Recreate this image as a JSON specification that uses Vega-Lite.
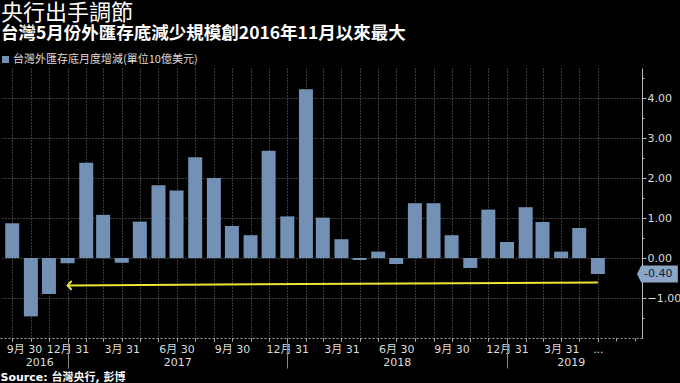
{
  "$schema": "https://vega.github.io/schema/vega-lite/v6.json",
  "width": 642,
  "height": 270,
  "autosize": {"type": "none"},
  "padding": {"left": 0, "top": 68, "right": 38, "bottom": 45},
  "background": "#000000",
  "title": {
    "text": "央行出手調節",
    "subtitle": "台灣5月份外匯存底減少規模創2016年11月以來最大",
    "anchor": "start",
    "frame": "group",
    "font": "Noto Sans CJK TC",
    "fontSize": 22,
    "fontWeight": "normal",
    "color": "#ffffff",
    "subtitleFont": "Noto Sans CJK TC",
    "subtitleFontSize": 17.5,
    "subtitleFontWeight": "bold",
    "subtitleColor": "#ffffff",
    "subtitlePadding": 0,
    "lineHeight": 20,
    "subtitleLineHeight": 19,
    "offset": 11,
    "dx": 1
  },
  "datasets": {
    "bars": [
      {"date": "2016-09-30", "value": 0.87, "series": "台灣外匯存底月度增減(單位10億美元)"},
      {"date": "2016-10-31", "value": -1.46, "series": "台灣外匯存底月度增減(單位10億美元)"},
      {"date": "2016-11-30", "value": -0.90, "series": "台灣外匯存底月度增減(單位10億美元)"},
      {"date": "2016-12-31", "value": -0.13, "series": "台灣外匯存底月度增減(單位10億美元)"},
      {"date": "2017-01-31", "value": 2.38, "series": "台灣外匯存底月度增減(單位10億美元)"},
      {"date": "2017-02-28", "value": 1.08, "series": "台灣外匯存底月度增減(單位10億美元)"},
      {"date": "2017-03-31", "value": -0.12, "series": "台灣外匯存底月度增減(單位10億美元)"},
      {"date": "2017-04-30", "value": 0.91, "series": "台灣外匯存底月度增減(單位10億美元)"},
      {"date": "2017-05-31", "value": 1.82, "series": "台灣外匯存底月度增減(單位10億美元)"},
      {"date": "2017-06-30", "value": 1.69, "series": "台灣外匯存底月度增減(單位10億美元)"},
      {"date": "2017-07-31", "value": 2.52, "series": "台灣外匯存底月度增減(單位10億美元)"},
      {"date": "2017-08-31", "value": 2.00, "series": "台灣外匯存底月度增減(單位10億美元)"},
      {"date": "2017-09-30", "value": 0.80, "series": "台灣外匯存底月度增減(單位10億美元)"},
      {"date": "2017-10-31", "value": 0.57, "series": "台灣外匯存底月度增減(單位10億美元)"},
      {"date": "2017-11-30", "value": 2.68, "series": "台灣外匯存底月度增減(單位10億美元)"},
      {"date": "2017-12-31", "value": 1.04, "series": "台灣外匯存底月度增減(單位10億美元)"},
      {"date": "2018-01-31", "value": 4.22, "series": "台灣外匯存底月度增減(單位10億美元)"},
      {"date": "2018-02-28", "value": 1.01, "series": "台灣外匯存底月度增減(單位10億美元)"},
      {"date": "2018-03-31", "value": 0.47, "series": "台灣外匯存底月度增減(單位10億美元)"},
      {"date": "2018-04-30", "value": -0.05, "series": "台灣外匯存底月度增減(單位10億美元)"},
      {"date": "2018-05-31", "value": 0.16, "series": "台灣外匯存底月度增減(單位10億美元)"},
      {"date": "2018-06-30", "value": -0.15, "series": "台灣外匯存底月度增減(單位10億美元)"},
      {"date": "2018-07-31", "value": 1.37, "series": "台灣外匯存底月度增減(單位10億美元)"},
      {"date": "2018-08-31", "value": 1.37, "series": "台灣外匯存底月度增減(單位10億美元)"},
      {"date": "2018-09-30", "value": 0.57, "series": "台灣外匯存底月度增減(單位10億美元)"},
      {"date": "2018-10-31", "value": -0.25, "series": "台灣外匯存底月度增減(單位10億美元)"},
      {"date": "2018-11-30", "value": 1.21, "series": "台灣外匯存底月度增減(單位10億美元)"},
      {"date": "2018-12-31", "value": 0.40, "series": "台灣外匯存底月度增減(單位10億美元)"},
      {"date": "2019-01-31", "value": 1.27, "series": "台灣外匯存底月度增減(單位10億美元)"},
      {"date": "2019-02-28", "value": 0.90, "series": "台灣外匯存底月度增減(單位10億美元)"},
      {"date": "2019-03-31", "value": 0.16, "series": "台灣外匯存底月度增減(單位10億美元)"},
      {"date": "2019-04-30", "value": 0.75, "series": "台灣外匯存底月度增減(單位10億美元)"},
      {"date": "2019-05-31", "value": -0.40, "series": "台灣外匯存底月度增減(單位10億美元)"}
    ],
    "arrow": [
      {"date": "2019-05-31", "value": -0.61, "date2": "2016-12-31", "value2": -0.685}
    ],
    "callout": [
      {"date": "2019-08-04", "value": -0.40, "label": "-0.40"}
    ]
  },
  "layer": [
    {
      "data": {"name": "bars"},
      "mark": {"type": "bar", "width": 14},
      "encoding": {
        "x": {
          "field": "date", "type": "temporal",
          "scale": {"type": "utc", "nice": false, "domain": [{"year": 2016, "month": 9, "date": 18, "utc": true}, {"year": 2019, "month": 8, "date": 4, "utc": true}]},
          "axis": {
            "orient": "bottom",
            "title": null,
            "values": [
              {"year": 2016, "month": 9, "date": 30, "utc": true},
              {"year": 2016, "month": 10, "date": 31, "utc": true},
              {"year": 2016, "month": 11, "date": 30, "utc": true},
              {"year": 2016, "month": 12, "date": 31, "utc": true},
              {"year": 2017, "month": 1, "date": 31, "utc": true},
              {"year": 2017, "month": 2, "date": 28, "utc": true},
              {"year": 2017, "month": 3, "date": 31, "utc": true},
              {"year": 2017, "month": 4, "date": 30, "utc": true},
              {"year": 2017, "month": 5, "date": 31, "utc": true},
              {"year": 2017, "month": 6, "date": 30, "utc": true},
              {"year": 2017, "month": 7, "date": 31, "utc": true},
              {"year": 2017, "month": 8, "date": 31, "utc": true},
              {"year": 2017, "month": 9, "date": 30, "utc": true},
              {"year": 2017, "month": 10, "date": 31, "utc": true},
              {"year": 2017, "month": 11, "date": 30, "utc": true},
              {"year": 2017, "month": 12, "date": 31, "utc": true},
              {"year": 2018, "month": 1, "date": 31, "utc": true},
              {"year": 2018, "month": 2, "date": 28, "utc": true},
              {"year": 2018, "month": 3, "date": 31, "utc": true},
              {"year": 2018, "month": 4, "date": 30, "utc": true},
              {"year": 2018, "month": 5, "date": 31, "utc": true},
              {"year": 2018, "month": 6, "date": 30, "utc": true},
              {"year": 2018, "month": 7, "date": 31, "utc": true},
              {"year": 2018, "month": 8, "date": 31, "utc": true},
              {"year": 2018, "month": 9, "date": 30, "utc": true},
              {"year": 2018, "month": 10, "date": 31, "utc": true},
              {"year": 2018, "month": 11, "date": 30, "utc": true},
              {"year": 2018, "month": 12, "date": 31, "utc": true},
              {"year": 2019, "month": 1, "date": 31, "utc": true},
              {"year": 2019, "month": 2, "date": 28, "utc": true},
              {"year": 2019, "month": 3, "date": 31, "utc": true},
              {"year": 2019, "month": 4, "date": 30, "utc": true},
              {"year": 2019, "month": 5, "date": 31, "utc": true},
              {"year": 2019, "month": 6, "date": 30, "utc": true},
              {"year": 2019, "month": 7, "date": 31, "utc": true}
            ],
            "labelExpr": "datum.value < utc(2016, 9, 1) ? '' : ((utcyear(datum.value) == 2019 && utcmonth(datum.value) >= 4) ? (utcmonth(datum.value) == 4 ? '...' : '') : (utcmonth(datum.value) % 3 == 2 ? (utcmonth(datum.value) + 1) + '月 ' + utcdate(datum.value) : ''))",
            "labelOverlap": false,
            "labelFlush": false,
            "labelPadding": 2,
            "labelFont": "DejaVu Sans, Noto Sans CJK TC",
            "labelFontSize": 11,
            "labelColor": "#dddddd",
            "tickSize": 3,
            "tickColor": "#aaaaaa",
            "domainColor": "#aaaaaa",
            "domainDash": [2, 2],
            "grid": false
          }
        },
        "y": {
          "field": "value", "type": "quantitative",
          "scale": {"domain": [-2, 4.75], "nice": false, "zero": false},
          "axis": {
            "orient": "right",
            "title": null,
            "values": [-1, 0, 1, 2, 3, 4],
            "format": ".2f",
            "labelOverlap": false,
            "labelPadding": 1,
            "labelFont": "DejaVu Sans",
            "labelFontSize": 11,
            "labelColor": "#dddddd",
            "tickSize": 4,
            "tickColor": "#bbbbbb",
            "domainColor": "#bbbbbb",
            "grid": true,
            "gridColor": "#777777",
            "gridDash": [1, 2],
            "gridWidth": 1
          }
        },
        "color": {
          "field": "series", "type": "nominal",
          "scale": {"range": ["#7390b5"]},
          "legend": {
            "orient": "top",
            "direction": "horizontal",
            "title": null,
            "symbolType": "square",
            "symbolSize": 49,
            "symbolStrokeWidth": 0,
            "labelFont": "Noto Sans CJK TC",
            "labelFontSize": 11,
            "labelColor": "#dddddd",
            "labelLimit": 400,
            "labelOffset": 2,
            "offset": 3,
            "padding": 0
          }
        }
      }
    },
    {
      "data": {"name": "arrow"},
      "mark": {"type": "rule", "color": "#ece534", "strokeWidth": 2},
      "encoding": {
        "x": {
          "field": "date", "type": "temporal",
          "scale": {"type": "utc", "nice": false, "domain": [{"year": 2016, "month": 9, "date": 18, "utc": true}, {"year": 2019, "month": 8, "date": 4, "utc": true}]},
          "axis": {
            "orient": "bottom",
            "values": [
              {"year": 2016, "month": 11, "date": 14, "utc": true},
              {"year": 2016, "month": 12, "date": 31, "utc": true},
              {"year": 2017, "month": 7, "date": 1, "utc": true},
              {"year": 2017, "month": 12, "date": 31, "utc": true},
              {"year": 2018, "month": 7, "date": 1, "utc": true},
              {"year": 2018, "month": 12, "date": 31, "utc": true},
              {"year": 2019, "month": 4, "date": 16, "utc": true}
            ],
            "labelExpr": "utcmonth(datum.value) == 11 ? '' : '' + utcyear(datum.value)",
            "labelOverlap": false,
            "labelFlush": false,
            "labelFont": "DejaVu Sans",
            "labelFontSize": 11,
            "labelColor": "#dddddd",
            "labelPadding": -12,
            "tickSize": 30,
            "tickColor": "#888888",
            "tickOpacity": {"condition": {"test": "utcmonth(datum.value) == 11", "value": 1}, "value": 0},
            "domain": false,
            "grid": false,
            "title": "Source: 台灣央行, 彭博",
            "titleFont": "DejaVu Sans, Noto Sans CJK TC",
            "titleFontSize": 11,
            "titleFontWeight": "bold",
            "titleColor": "#ffffff",
            "titleAnchor": "start",
            "titleAlign": "left",
            "titlePadding": 3
          }
        },
        "x2": {"field": "date2"},
        "y": {
          "field": "value", "type": "quantitative",
          "scale": {"domain": [-2, 4.75], "nice": false, "zero": false},
          "axis": {
            "orient": "right",
            "title": null,
            "values": [-1.5, -0.5, 0.5, 1.5, 2.5, 3.5, 4.5],
            "labels": false,
            "domain": false,
            "grid": false,
            "tickSize": 2,
            "tickColor": "#bbbbbb"
          }
        },
        "y2": {"field": "value2"}
      }
    },
    {
      "data": {"name": "arrow"},
      "mark": {"type": "point", "shape": "M0.9,-1L0,0L0.9,1", "filled": false, "stroke": "#ece534", "strokeWidth": 2, "size": 81, "opacity": 1},
      "encoding": {
        "x": {
          "field": "date2", "type": "temporal",
          "scale": {"type": "utc", "nice": false, "domain": [{"year": 2016, "month": 9, "date": 18, "utc": true}, {"year": 2019, "month": 8, "date": 4, "utc": true}]},
          "axis": {
            "orient": "bottom",
            "title": null,
            "values": [
              {"year": 2016, "month": 9, "date": 30, "utc": true},
              {"year": 2016, "month": 10, "date": 31, "utc": true},
              {"year": 2016, "month": 11, "date": 30, "utc": true},
              {"year": 2016, "month": 12, "date": 31, "utc": true},
              {"year": 2017, "month": 1, "date": 31, "utc": true},
              {"year": 2017, "month": 2, "date": 28, "utc": true},
              {"year": 2017, "month": 3, "date": 31, "utc": true},
              {"year": 2017, "month": 4, "date": 30, "utc": true},
              {"year": 2017, "month": 5, "date": 31, "utc": true},
              {"year": 2017, "month": 6, "date": 30, "utc": true},
              {"year": 2017, "month": 7, "date": 31, "utc": true},
              {"year": 2017, "month": 8, "date": 31, "utc": true},
              {"year": 2017, "month": 9, "date": 30, "utc": true},
              {"year": 2017, "month": 10, "date": 31, "utc": true},
              {"year": 2017, "month": 11, "date": 30, "utc": true},
              {"year": 2017, "month": 12, "date": 31, "utc": true},
              {"year": 2018, "month": 1, "date": 31, "utc": true},
              {"year": 2018, "month": 2, "date": 28, "utc": true},
              {"year": 2018, "month": 3, "date": 31, "utc": true},
              {"year": 2018, "month": 4, "date": 30, "utc": true},
              {"year": 2018, "month": 5, "date": 31, "utc": true},
              {"year": 2018, "month": 6, "date": 30, "utc": true},
              {"year": 2018, "month": 7, "date": 31, "utc": true},
              {"year": 2018, "month": 8, "date": 31, "utc": true},
              {"year": 2018, "month": 9, "date": 30, "utc": true},
              {"year": 2018, "month": 10, "date": 31, "utc": true},
              {"year": 2018, "month": 11, "date": 30, "utc": true},
              {"year": 2018, "month": 12, "date": 31, "utc": true},
              {"year": 2019, "month": 1, "date": 31, "utc": true},
              {"year": 2019, "month": 2, "date": 28, "utc": true},
              {"year": 2019, "month": 3, "date": 31, "utc": true},
              {"year": 2019, "month": 4, "date": 30, "utc": true},
              {"year": 2019, "month": 5, "date": 31, "utc": true}
            ],
            "labelExpr": "datum.value < utc(2016, 9, 1) ? '9月 30' : ''",
            "labelOverlap": false,
            "labelFlush": false,
            "labelAlign": "left",
            "labelOffset": -6,
            "labelPadding": 2,
            "labelFont": "DejaVu Sans, Noto Sans CJK TC",
            "labelFontSize": 11,
            "labelColor": "#dddddd",
            "ticks": true,
            "tickSize": 3,
            "tickColor": "#aaaaaa",
            "domain": false,
            "grid": true,
            "gridColor": "#777777",
            "gridDash": [1, 2],
            "gridWidth": 1,
            "encode": {"labels": {"update": {"dx": {"value": -6}}}}
          }
        },
        "y": {"field": "value2", "type": "quantitative", "scale": {"domain": [-2, 4.75], "nice": false, "zero": false}, "axis": null}
      }
    },
    {
      "data": {"name": "callout"},
      "mark": {"type": "point", "shape": "M0,0L0.25,-0.5L2.4,-0.5L2.4,0.5L0.25,0.5Z", "filled": true, "fill": "#8ca6c8", "strokeWidth": 0, "size": 1156, "opacity": 1},
      "encoding": {
        "x": {"field": "date", "type": "temporal", "scale": {"type": "utc", "nice": false, "domain": [{"year": 2016, "month": 9, "date": 18, "utc": true}, {"year": 2019, "month": 8, "date": 4, "utc": true}]}, "axis": null},
        "y": {"field": "value", "type": "quantitative", "scale": {"domain": [-2, 4.75], "nice": false, "zero": false}, "axis": null}
      }
    },
    {
      "data": {"name": "callout"},
      "mark": {"type": "text", "align": "left", "baseline": "middle", "dx": 7, "font": "DejaVu Sans", "fontSize": 11, "color": "#0d1d33"},
      "encoding": {
        "x": {"field": "date", "type": "temporal", "scale": {"type": "utc", "nice": false, "domain": [{"year": 2016, "month": 9, "date": 18, "utc": true}, {"year": 2019, "month": 8, "date": 4, "utc": true}]}, "axis": null},
        "y": {"field": "value", "type": "quantitative", "scale": {"domain": [-2, 4.75], "nice": false, "zero": false}, "axis": null},
        "text": {"field": "label"}
      }
    }
  ],
  "resolve": {"axis": {"x": "independent", "y": "independent"}},
  "config": {
    "view": {"stroke": null},
    "font": "DejaVu Sans"
  }
}
